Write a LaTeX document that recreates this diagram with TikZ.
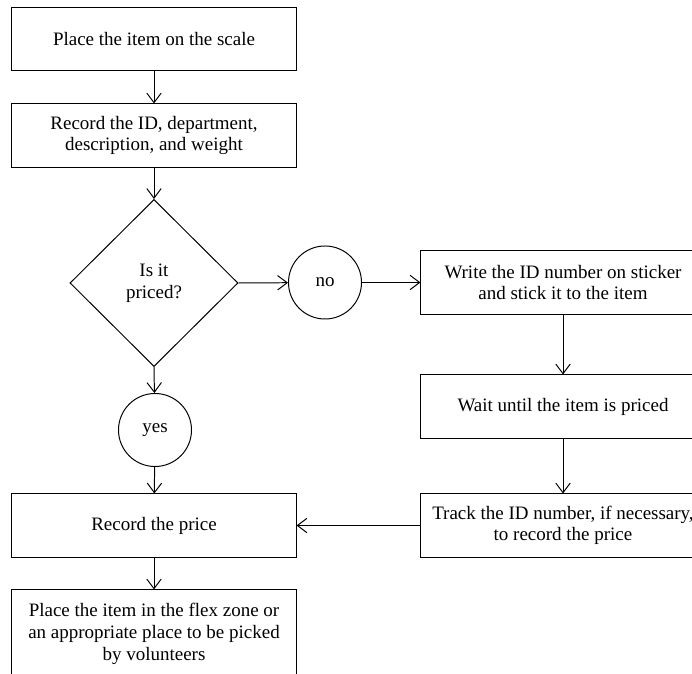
\documentclass[tikz,border=0pt]{standalone}
\usepackage{fontspec}
\setmainfont{Liberation Serif}
\usetikzlibrary{shapes.geometric,arrows.meta}
\begin{document}
\begin{tikzpicture}[x=0.025cm,y=-0.025cm,line width=0.7pt,
    >={Straight Barb[length=2.4mm,width=3.6mm]},
    every node/.style={font=\fontsize{13.5}{15.4}\selectfont,align=center},
    stepbox/.style={draw,rectangle,minimum width=7.1cm,minimum height=1.575cm,inner sep=2pt},
    decision/.style={draw,diamond,minimum width=4.2cm,minimum height=4.175cm,inner sep=0pt},
    answer/.style={draw,circle,minimum size=1.825cm,inner sep=0pt}]
    \useasboundingbox (0,0) rectangle (692,674);
    \clip (0,0) rectangle (692,674);
    % left column
    \node [stepbox] (place) at (154,39) {Place the item on the scale};
    \node [stepbox] (record) at (154,135.5) {Record the ID, department,\\ description, and weight};
    \node [decision] (priced) at (154,283) {Is it\\ priced?};
    \node [answer] (yes) at (155,430) {yes};
    \node [stepbox] (price) at (154,525.5) {Record the price};
    \node [stepbox,minimum height=2.2cm] (flex) at (154,634)
        {Place the item in the flex zone or\\ an appropriate place to be picked\\ by volunteers};
    % right column
    \node [answer] (no) at (325,282.5) {no};
    \node [stepbox] (write) at (563,282.5) {Write the ID number on sticker\\ and stick it to the item};
    \node [stepbox] (wait) at (563,406.5) {Wait until the item is priced};
    \node [stepbox] (track) at (563,525.5) {Track the ID number, if necessary,\\ to record the price};
    % arrows
    \draw[->] (place) -- (record);
    \draw[->] (record) -- (priced);
    \draw[->] (priced.east) -- (no);
    \draw[->] (no) -- (write);
    \draw[->] (write) -- (wait);
    \draw[->] (wait) -- (track);
    \draw[->] (priced.south) -- (yes);
    \draw[->] (yes) -- (price);
    \draw[->] (track) -- (price);
    \draw[->] (price) -- (flex);
\end{tikzpicture}
\end{document}
